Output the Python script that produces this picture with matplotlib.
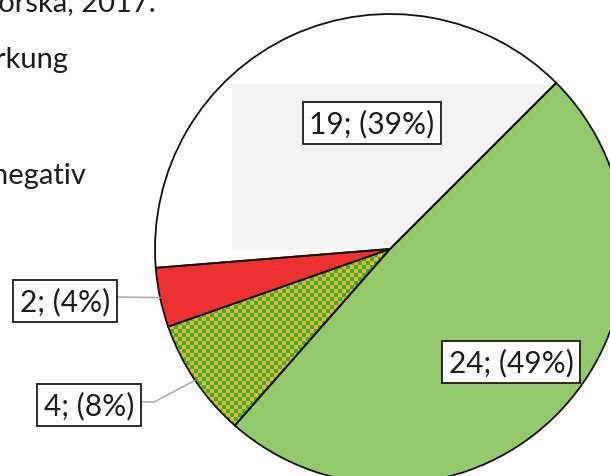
import numpy as np
import matplotlib
matplotlib.use("Agg")
import matplotlib.pyplot as plt
from matplotlib.patches import Rectangle

# counts per answer group (clockwise from the upper right)
counts = [24, 4, 2, 19]
colors = ["#93c96b", "none", "#ec3130", "none"]
total = sum(counts)
labels = ["%d; (%d%%)" % (c, round(100.0 * c / total)) for c in counts]

W, H = 610, 477
plt.rcParams["font.family"] = ["Lato", "DejaVu Sans"]
txt_col = "#1c1c1c"

fig = plt.figure(figsize=(W / 100, H / 100), dpi=100)
ax = fig.add_axes([0, 0, 1, 1])

cx, cy, r = 390, H - 250, 235
wedges, _ = ax.pie(counts, colors=colors, startangle=45, counterclock=False,
                   center=(cx, cy), radius=r,
                   wedgeprops=dict(edgecolor="#111111", linewidth=1.3))
for w in wedges:
    w.set_zorder(3)

# light grey plot area showing through the blank slice
rect = Rectangle((232, cy), 400, 165, facecolor="#f3f3f2", edgecolor="none", zorder=2)
ax.add_patch(rect)
rect.set_clip_path(wedges[3])

# checkered fill for the small mixed slice
cell = 4
n = 130
ii, jj = np.meshgrid(np.arange(n), np.arange(n))
board = np.where((ii + jj) % 2 == 0, 0, 1)
cmap = matplotlib.colors.ListedColormap(["#f4b519", "#2bb24f"])
im = ax.imshow(board, cmap=cmap, interpolation="nearest", zorder=2,
               extent=(cx - 260, cx - 260 + n * cell, cy - 260, cy - 260 + n * cell))
im.set_clip_path(wedges[1])

def edge_point(w):
    mid = np.deg2rad(0.5 * (w.theta1 + w.theta2))
    return cx + r * np.cos(mid), cy + r * np.sin(mid)

box = dict(boxstyle="square,pad=0.22", facecolor="white", edgecolor=txt_col, linewidth=1.3)
label_pos = [(511, H - 363), None, (65, H - 302), (89, H - 406)]
label_pos[1] = label_pos[3]
label_pos[3] = (372, H - 124)
for lab, pos in zip(labels, label_pos):
    ax.text(pos[0], pos[1], lab, ha="center", va="center", fontsize=21.5,
            color=txt_col, bbox=box, zorder=5)

# leader lines for the two small slices
ex, ey = edge_point(wedges[2])
ax.plot([118, ex], [H - 298, ey], color="#a6a6a6", lw=1.1, zorder=4)
ex, ey = edge_point(wedges[1])
ax.plot([143, 154, ex], [H - 403, H - 403, ey], color="#a6a6a6", lw=1.1, zorder=4)

# legend text of the neighbouring panel
ax.text(156, H - 11, "chorska, 2017.", ha="right", va="baseline", fontsize=21, color=txt_col)
ax.text(68, H - 68, "rkung", ha="right", va="baseline", fontsize=21, color=txt_col)
ax.text(86, H - 184, "negativ", ha="right", va="baseline", fontsize=21, color=txt_col)

ax.set_xlim(0, W)
ax.set_ylim(0, H)
ax.set_aspect("auto")
ax.axis("off")

fig.savefig("out.png", dpi=100, facecolor="white")
